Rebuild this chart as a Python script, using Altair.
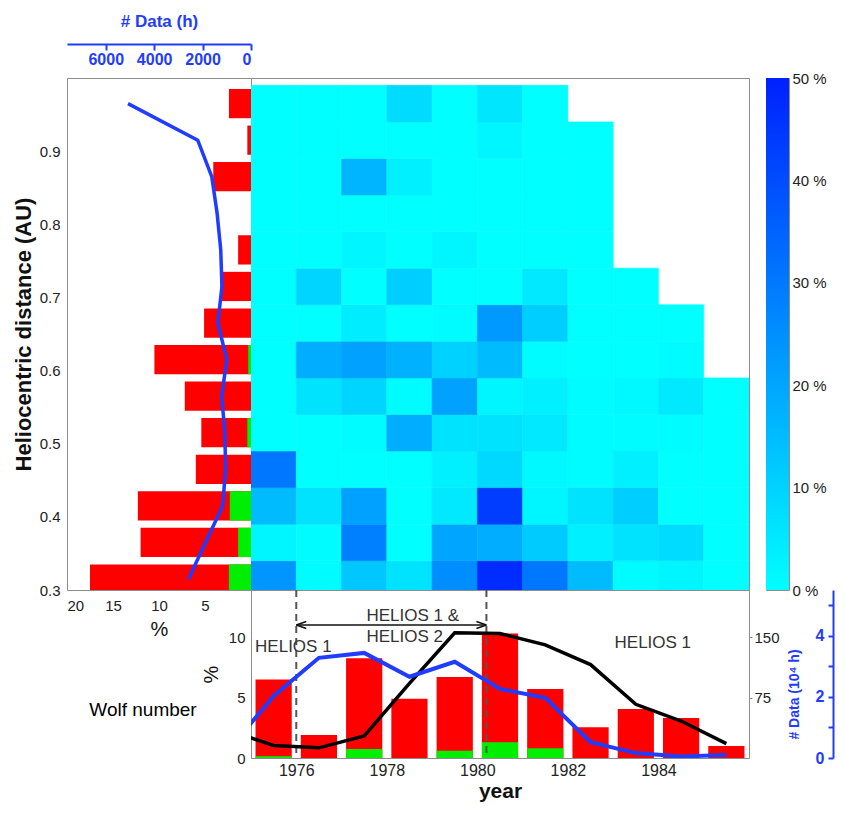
import altair as alt
import pandas as pd

FONT = "Liberation Sans"
BLUE = "#1f3cff"

# ---------------- left panel: per heliocentric-distance bin ----------------
dist_center = [0.315, 0.365, 0.415, 0.465, 0.515, 0.565, 0.615,
               0.665, 0.715, 0.765, 0.815, 0.865, 0.915, 0.965]
dist_red_pct = [17.5, 12.0, 12.3, 6.0, 5.4, 7.2, 10.5, 5.1, 3.3, 1.4, 0.0, 4.1, 0.4, 2.4]
dist_green_pct = [2.4, 1.4, 2.3, 0.0, 0.4, 0.0, 0.3, 0.0, 0.0, 0.0, 0.0, 0.0, 0.0, 0.0]
dist_data_hours = [2580, 1880, 1170, 1050, 1080, 1210, 1000, 1370, 1200, 1250, 1400, 1620, 2200, 5080]

# ---------------- heat map: % per year column, one list per distance bin ----------------
heat_years = [1975, 1976, 1977, 1978, 1979, 1980, 1981, 1982, 1983, 1984, 1985]
heat_0315 = [30, 1, 17, 9, 32, 49, 37, 20, 1, 3, 0]
heat_0365 = [3, 1, 35, 0, 26, 24, 16, 5, 9, 11, 0]
heat_0415 = [20, 9, 27, 0, 7, 47, 3, 9, 15, 0, 0]
heat_0465 = [37, 0, 0, 0, 5, 12, 2, 1, 5, 0, 0]
heat_0515 = [0, 0, 1, 24, 9, 9, 7, 1, 1, 1, 0]
heat_0565 = [0, 9, 13, 1, 27, 3, 5, 1, 2, 7, 0]
heat_0615 = [0, 24, 27, 23, 14, 20, 1, 0, 0, 1, None]
heat_0665 = [0, 0, 6, 0, 1, 29, 15, 0, 0, 0, None]
heat_0715 = [0, 13, 0, 15, 0, 0, 7, 0, 0, None, None]
heat_0765 = [0, 0, 3, 0, 3, 0, 0, 0, None, None, None]
heat_0815 = [0, 0, 0, 0, 0, 0, 0, 0, None, None, None]
heat_0865 = [0, 0, 22, 5, 0, 0, 0, 0, None, None, None]
heat_0915 = [0, 0, 0, 0, 0, 3, 0, 0, None, None, None]
heat_0965 = [0, 0, 0, 11, 0, 8, 0, None, None, None, None]
heat_rows = [heat_0315, heat_0365, heat_0415, heat_0465, heat_0515, heat_0565, heat_0615,
             heat_0665, heat_0715, heat_0765, heat_0815, heat_0865, heat_0915, heat_0965]
colorbar_ticks = [0, 10, 20, 30, 40, 50]
colorbar_colors = ["#00ffff", "#0020ff"]

# ---------------- bottom panel: per year ----------------
year_red_pct = [6.5, 1.9, 8.25, 4.9, 6.7, 10.3, 5.7, 2.55, 4.05, 3.3, 1.0]
year_green_pct = [0.15, 0.0, 0.75, 0.0, 0.6, 1.3, 0.8, 0.0, 0.0, 0.0, 0.0]
line_years = [1974.5, 1975.5, 1976.5, 1977.5, 1978.5, 1979.5, 1980.5,
              1981.5, 1982.5, 1983.5, 1984.5, 1985.5]
wolf_number = [34.5, 15.5, 12.6, 27.5, 92.5, 155.4, 154.6, 140.4, 115.9, 66.6, 45.9, 17.9]
data_1e4_hours = [0.25, 2.03, 3.28, 3.44, 2.66, 3.15, 2.26, 1.97, 0.52, 0.16, 0.05, 0.10]
period_edges = [1976.0, 1980.2]
ann_text = ["HELIOS 1", "HELIOS 1 &", "HELIOS 2", "HELIOS 1"]
ann_x = [1975.09, 1977.55, 1977.55, 1983.03]
ann_y = [9.2, 11.75, 10.0, 9.5]
arrow_y = 11.0

# ---------------- data frames ----------------
left_df = pd.DataFrame({"d": dist_center, "red": dist_red_pct,
                        "green": dist_green_pct, "hours": dist_data_hours})
left_df["lo"] = left_df["d"] - 0.02
left_df["hi"] = left_df["d"] + 0.02
left_df["zero"] = 0.0

cells = []
for d, row in zip(dist_center, heat_rows):
    for yr, v in zip(heat_years, row):
        if v is not None:
            cells.append({"x": yr, "x2": yr + 1, "y": d - 0.025, "y2": d + 0.025, "v": v})
heat_df = pd.DataFrame(cells)

yr_df = pd.DataFrame({"year": heat_years, "red": year_red_pct, "green": year_green_pct})
yr_df["x0"] = yr_df["year"] + 0.1
yr_df["x1"] = yr_df["year"] + 0.9
yr_df["zero"] = 0.0

line_df = pd.DataFrame({"yr": line_years, "wolf": wolf_number, "data": data_1e4_hours})
ann_df = pd.DataFrame({"t": ann_text, "x": ann_x, "y": ann_y})
edge_df = pd.DataFrame({"x": period_edges})
arrow_df = pd.DataFrame({"x": [period_edges[0]], "x2": [period_edges[1]], "y": [arrow_y]})
head_df = pd.DataFrame({"x": period_edges, "y": [arrow_y, arrow_y],
                        "s": ["M0,0L2,-0.7M0,0L2,0.7", "M0,0L-2,-0.7M0,0L-2,0.7"]})
cbar_df = pd.DataFrame({"lo": [colorbar_ticks[0]], "hi": [colorbar_ticks[-1]]})

# ---------------- scales ----------------
dist_scale = alt.Scale(domain=[0.3, 1.0], nice=False, zero=False)
pct_scale = alt.Scale(domain=[0, 20], reverse=True, nice=False)
hours_scale = alt.Scale(domain=[0, 7600], reverse=True, nice=False)
year_scale = alt.Scale(domain=[1975, 1986], nice=False, zero=False)
ypct_scale = alt.Scale(domain=[0, 13.9], nice=False)
wolf_scale = alt.Scale(domain=[0, 208.5], nice=False)
data_scale = alt.Scale(domain=[0, 5.5], nice=False)
heat_scale = alt.Scale(domain=[colorbar_ticks[0], colorbar_ticks[-1]], range=colorbar_colors)

# ---------------- left panel ----------------
red_h = alt.Chart(left_df).mark_rect(color="#ff0000", clip=True).encode(
    x=alt.X("red:Q", scale=pct_scale,
            axis=alt.Axis(values=[5, 10, 15, 20], title="%", ticks=False, labelPadding=8,
                          titleFontSize=20, titleFontWeight="normal", titlePadding=6)),
    x2="zero:Q",
    y=alt.Y("lo:Q", scale=dist_scale,
            axis=alt.Axis(values=[0.3, 0.4, 0.5, 0.6, 0.7, 0.8, 0.9], format=".1f",
                          title="Heliocentric distance (AU)", ticks=False, labelPadding=7,
                          titleFontSize=22, titleFontWeight="bold", titlePadding=4)),
    y2="hi:Q",
)
green_h = alt.Chart(left_df).mark_rect(color="#00ee00", clip=True).encode(
    x=alt.X("green:Q", scale=pct_scale),
    x2="zero:Q",
    y=alt.Y("lo:Q", scale=dist_scale),
    y2="hi:Q",
)
line_h = alt.Chart(left_df).mark_line(color=BLUE, strokeWidth=3.5).encode(
    x=alt.X("hours:Q", scale=hours_scale,
            axis=alt.Axis(orient="bottom", offset=-546, values=[0, 2000, 4000, 6000],
                          format="d", domain=True, domainColor=BLUE, domainWidth=2,
                          ticks=True, tickColor=BLUE, tickWidth=2, tickSize=6,
                          labelColor=BLUE, labelFontSize=16, labelFontWeight="bold",
                          labelPadding=1, title="# Data (h)", titleColor=BLUE,
                          titleFontSize=17, titleFontWeight="bold",
                          titleBaseline="alphabetic", titleY=-18)),
    y=alt.Y("d:Q", scale=dist_scale),
    order=alt.Order("d:Q"),
)
left = alt.layer(alt.layer(red_h, green_h), line_h).resolve_scale(x="independent").properties(
    width=184, height=512)

# ---------------- heat map ----------------
heat = alt.Chart(heat_df).mark_rect(clip=True, strokeWidth=0.6).encode(
    x=alt.X("x:Q", scale=year_scale, axis=None),
    x2="x2:Q",
    y=alt.Y("y:Q", scale=dist_scale, axis=None),
    y2="y2:Q",
    color=alt.Color("v:Q", scale=heat_scale, legend=None),
    stroke=alt.Stroke("v:Q", scale=heat_scale, legend=None),
).properties(width=498, height=512)

# ---------------- gap and colour bar ----------------
gap = alt.Chart(cbar_df).mark_rect(opacity=0).encode(
    y=alt.Y("lo:Q", axis=None)
).properties(width=17, height=512, view=alt.ViewBackground(strokeOpacity=0))

cbar = alt.Chart(cbar_df).mark_rect(
    color=alt.Gradient(gradient="linear",
                       stops=[alt.GradientStop(color=colorbar_colors[0], offset=0),
                              alt.GradientStop(color=colorbar_colors[1], offset=1)],
                       x1=0, x2=0, y1=1, y2=0)
).encode(
    y=alt.Y("lo:Q", scale=alt.Scale(domain=[colorbar_ticks[0], colorbar_ticks[-1]], nice=False),
            axis=alt.Axis(orient="right", values=colorbar_ticks, labelExpr="datum.label + ' %'",
                          ticks=False, labelPadding=3, labelFontSize=15, title=None)),
    y2="hi:Q",
).properties(width=23, height=512)

# ---------------- "Wolf number" label panel ----------------
wolf_panel = alt.Chart(pd.DataFrame({"t": ["Wolf number"]})).mark_text(
    fontSize=19, color="#000", align="center", baseline="middle").encode(
    text="t:N", x=alt.value(76), y=alt.value(120)
).properties(width=184, height=168, view=alt.ViewBackground(strokeOpacity=0))

# ---------------- bottom panel ----------------
bars_b = alt.Chart(yr_df).mark_rect(color="#ff0000").encode(
    x=alt.X("x0:Q", scale=year_scale,
            axis=alt.Axis(values=[1976, 1978, 1980, 1982, 1984], format="d", ticks=False,
                          labelFontSize=16, labelPadding=4, title="year",
                          titleFontSize=21, titleFontWeight="bold", titlePadding=2)),
    x2="x1:Q",
    y=alt.Y("red:Q", scale=ypct_scale,
            axis=alt.Axis(orient="left", values=[0, 5, 10], ticks=False, labelPadding=6,
                          title="%", titleFontSize=20, titleFontWeight="normal",
                          titlePadding=7)),
    y2="zero:Q",
)
green_b = alt.Chart(yr_df).mark_rect(color="#00ee00").encode(
    x=alt.X("x0:Q", scale=year_scale), x2="x1:Q",
    y=alt.Y("green:Q", scale=ypct_scale), y2="zero:Q",
)
edges = alt.Chart(edge_df).mark_rule(color="#555", strokeWidth=2, strokeDash=[7, 5]).encode(
    x=alt.X("x:Q", scale=year_scale))
arrow = alt.Chart(arrow_df).mark_rule(color="#111", strokeWidth=1.5).encode(
    x=alt.X("x:Q", scale=year_scale), x2="x2:Q", y=alt.Y("y:Q", scale=ypct_scale))
heads = alt.Chart(head_df).mark_point(filled=False, color="#111", strokeWidth=1.5,
                                      size=100, opacity=1).encode(
    x=alt.X("x:Q", scale=year_scale), y=alt.Y("y:Q", scale=ypct_scale),
    shape=alt.Shape("s:N", scale=None, legend=None))
texts = alt.Chart(ann_df).mark_text(align="left", baseline="middle", fontSize=17,
                                    color="#333").encode(
    x=alt.X("x:Q", scale=year_scale), y=alt.Y("y:Q", scale=ypct_scale), text="t:N")
pct_layer = alt.layer(bars_b, green_b, edges, arrow, heads, texts)

wolf_line = alt.Chart(line_df).mark_line(color="#000", strokeWidth=3.5, clip=True).encode(
    x=alt.X("yr:Q", scale=year_scale),
    y=alt.Y("wolf:Q", scale=wolf_scale,
            axis=alt.Axis(orient="right", values=[75, 150], tickSize=3, labelPadding=2,
                          title=None)),
)
data_line = alt.Chart(line_df).mark_line(color=BLUE, strokeWidth=4, clip=True).encode(
    x=alt.X("yr:Q", scale=year_scale),
    y=alt.Y("data:Q", scale=data_scale,
            axis=alt.Axis(orient="left", offset=-582, values=[0, 1, 2, 3, 4, 5],
                          labelExpr="datum.value % 2 == 0 ? datum.label : ''",
                          domain=True, domainColor=BLUE, domainWidth=2,
                          ticks=True, tickColor=BLUE, tickWidth=2, tickSize=5,
                          labelColor=BLUE, labelFontSize=16, labelFontWeight="bold",
                          labelPadding=4, title="# Data (10\u2074 h)", titleColor=BLUE,
                          titleFontSize=14, titleFontWeight="bold", titlePadding=14,
                          titleY=104)),
)
bottom = alt.layer(pct_layer, wolf_line, data_line).resolve_scale(y="independent").properties(
    width=498, height=168)

chart = alt.concat(left, heat, gap, cbar, wolf_panel, bottom,
                   columns=4, spacing=0, bounds="flush").properties(
    padding={"left": 3, "top": 3, "right": 0, "bottom": 0}
).configure_view(stroke="#8c8c8c", strokeWidth=1).configure_axis(
    domain=False, grid=False, labelFont=FONT, titleFont=FONT, labelFontSize=15,
    labelColor="#222", titleColor="#111"
).configure_text(font=FONT)

chart.save("out.html", embed_options={"renderer": "svg", "actions": False})
